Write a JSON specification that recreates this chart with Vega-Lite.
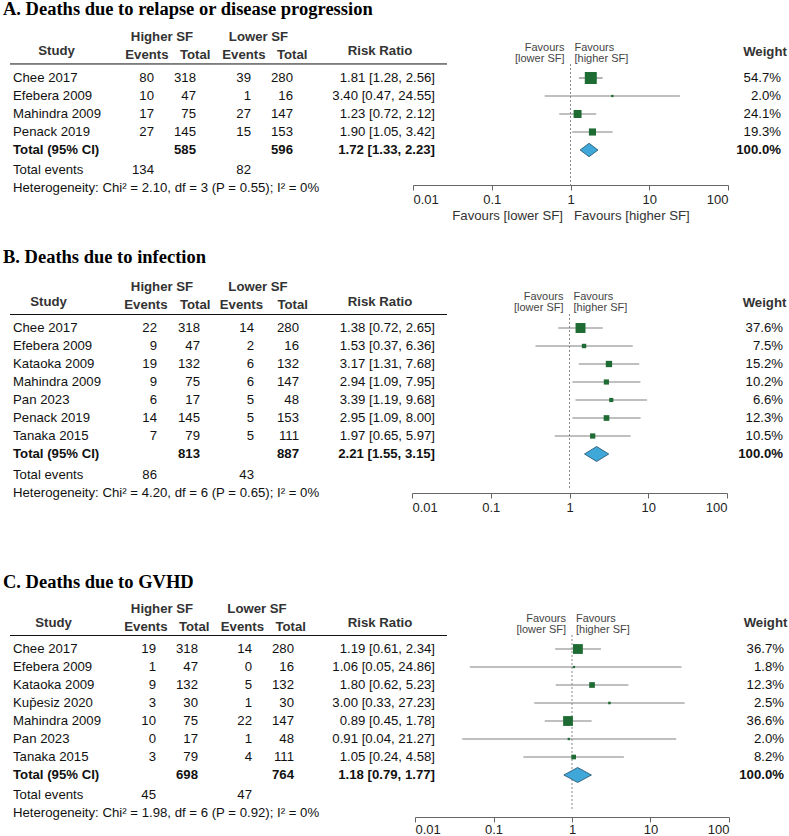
{
"$schema":"https://vega.github.io/schema/vega-lite/v6.json",
"padding":0,
"spacing":62,
"bounds":"flush",
"config":{"view":{"stroke":null},"font":"Liberation Sans","text":{"font":"Liberation Sans"}},
"datasets":{
"headers":[{"key":"study","label":"Study"},{"key":"hi","label":"Higher SF"},{"key":"he","label":"Events"},{"key":"ht","label":"Total"},{"key":"lo","label":"Lower SF"},{"key":"le","label":"Events"},{"key":"lt","label":"Total"},{"key":"rr","label":"Risk Ratio"},{"key":"wt","label":"Weight"}],
"studiesA":[
{"study":"Chee 2017","he":80,"ht":318,"le":39,"lt":280,"rr":"1.81 [1.28, 2.56]","est":1.81,"lo":1.28,"hi":2.56,"w":0.547},
{"study":"Efebera 2009","he":10,"ht":47,"le":1,"lt":16,"rr":"3.40 [0.47, 24.55]","est":3.40,"lo":0.47,"hi":24.55,"w":0.020},
{"study":"Mahindra 2009","he":17,"ht":75,"le":27,"lt":147,"rr":"1.23 [0.72, 2.12]","est":1.23,"lo":0.72,"hi":2.12,"w":0.241},
{"study":"Penack 2019","he":27,"ht":145,"le":15,"lt":153,"rr":"1.90 [1.05, 3.42]","est":1.90,"lo":1.05,"hi":3.42,"w":0.193}],
"footA":[{"title":"A. Deaths due to relapse or disease progression","tot":"Total (95% CI)","ht":585,"lt":596,"rr":"1.72 [1.33, 2.23]","est":1.72,"lo":1.33,"hi":2.23,"w":1.0,"ev":"Total events","he":134,"le":82,"het":"Heterogeneity: Chi² = 2.10, df = 3 (P = 0.55); I² = 0%"}],
"studiesB":[
{"study":"Chee 2017","he":22,"ht":318,"le":14,"lt":280,"rr":"1.38 [0.72, 2.65]","est":1.38,"lo":0.72,"hi":2.65,"w":0.376},
{"study":"Efebera 2009","he":9,"ht":47,"le":2,"lt":16,"rr":"1.53 [0.37, 6.36]","est":1.53,"lo":0.37,"hi":6.36,"w":0.075},
{"study":"Kataoka 2009","he":19,"ht":132,"le":6,"lt":132,"rr":"3.17 [1.31, 7.68]","est":3.17,"lo":1.31,"hi":7.68,"w":0.152},
{"study":"Mahindra 2009","he":9,"ht":75,"le":6,"lt":147,"rr":"2.94 [1.09, 7.95]","est":2.94,"lo":1.09,"hi":7.95,"w":0.102},
{"study":"Pan 2023","he":6,"ht":17,"le":5,"lt":48,"rr":"3.39 [1.19, 9.68]","est":3.39,"lo":1.19,"hi":9.68,"w":0.066},
{"study":"Penack 2019","he":14,"ht":145,"le":5,"lt":153,"rr":"2.95 [1.09, 8.00]","est":2.95,"lo":1.09,"hi":8.00,"w":0.123},
{"study":"Tanaka 2015","he":7,"ht":79,"le":5,"lt":111,"rr":"1.97 [0.65, 5.97]","est":1.97,"lo":0.65,"hi":5.97,"w":0.105}],
"footB":[{"title":"B. Deaths due to infection","tot":"Total (95% CI)","ht":813,"lt":887,"rr":"2.21 [1.55, 3.15]","est":2.21,"lo":1.55,"hi":3.15,"w":1.0,"ev":"Total events","he":86,"le":43,"het":"Heterogeneity: Chi² = 4.20, df = 6 (P = 0.65); I² = 0%"}],
"studiesC":[
{"study":"Chee 2017","he":19,"ht":318,"le":14,"lt":280,"rr":"1.19 [0.61, 2.34]","est":1.19,"lo":0.61,"hi":2.34,"w":0.367},
{"study":"Efebera 2009","he":1,"ht":47,"le":0,"lt":16,"rr":"1.06 [0.05, 24.86]","est":1.06,"lo":0.05,"hi":24.86,"w":0.018},
{"study":"Kataoka 2009","he":9,"ht":132,"le":5,"lt":132,"rr":"1.80 [0.62, 5.23]","est":1.80,"lo":0.62,"hi":5.23,"w":0.123},
{"study":"Kup\u0306esiz 2020","he":3,"ht":30,"le":1,"lt":30,"rr":"3.00 [0.33, 27.23]","est":3.00,"lo":0.33,"hi":27.23,"w":0.025},
{"study":"Mahindra 2009","he":10,"ht":75,"le":22,"lt":147,"rr":"0.89 [0.45, 1.78]","est":0.89,"lo":0.45,"hi":1.78,"w":0.366},
{"study":"Pan 2023","he":0,"ht":17,"le":1,"lt":48,"rr":"0.91 [0.04, 21.27]","est":0.91,"lo":0.04,"hi":21.27,"w":0.020},
{"study":"Tanaka 2015","he":3,"ht":79,"le":4,"lt":111,"rr":"1.05 [0.24, 4.58]","est":1.05,"lo":0.24,"hi":4.58,"w":0.082}],
"footC":[{"title":"C. Deaths due to GVHD","tot":"Total (95% CI)","ht":698,"lt":764,"rr":"1.18 [0.79, 1.77]","est":1.18,"lo":0.79,"hi":1.77,"w":1.0,"ev":"Total events","he":45,"le":47,"het":"Heterogeneity: Chi² = 1.98, df = 6 (P = 0.92); I² = 0%"}]
},
"vconcat":[
{
"width":789,"height":185,
"resolve":{"scale":{"x":"independent"}},
"layer":[
{"encoding":{"x":{"datum":"c","type":"nominal","scale":{"type":"point","domain":["c"],"range":[13,13]},"axis":null}},
"layer":[
{"data":{"name":"studiesA"},"mark":{"type":"text","align":"left","baseline":"middle","fontSize":13.2,"color":"#111"},"encoding":{"y":{"field":"study","type":"nominal","scale":{"type":"band","domain":["title","blank","h1","h2","Chee 2017","Efebera 2009","Mahindra 2009","Penack 2019","Total (95% CI)","Total events","Heterogeneity"],"range":[-3,195],"paddingInner":0,"paddingOuter":0},"axis":null},"text":{"field":"study","type":"nominal"}}},
{"data":{"name":"footA"},"mark":{"type":"text","align":"left","baseline":"middle","fontSize":13.2,"fontWeight":"bold","color":"#111"},"encoding":{"y":{"datum":"Total (95% CI)","type":"nominal","scale":{"type":"band","domain":["title","blank","h1","h2","Chee 2017","Efebera 2009","Mahindra 2009","Penack 2019","Total (95% CI)","Total events","Heterogeneity"],"range":[-3,195],"paddingInner":0,"paddingOuter":0},"axis":null},"text":{"field":"tot","type":"nominal"}}},
{"data":{"name":"footA"},"mark":{"type":"text","align":"left","baseline":"middle","fontSize":13.2,"color":"#111","dy":2},"encoding":{"y":{"datum":"Total events","type":"nominal","scale":{"type":"band","domain":["title","blank","h1","h2","Chee 2017","Efebera 2009","Mahindra 2009","Penack 2019","Total (95% CI)","Total events","Heterogeneity"],"range":[-3,195],"paddingInner":0,"paddingOuter":0},"axis":null},"text":{"field":"ev","type":"nominal"}}},
{"data":{"name":"footA"},"mark":{"type":"text","align":"left","baseline":"middle","fontSize":13.2,"color":"#111","dy":2},"encoding":{"y":{"datum":"Heterogeneity","type":"nominal","scale":{"type":"band","domain":["title","blank","h1","h2","Chee 2017","Efebera 2009","Mahindra 2009","Penack 2019","Total (95% CI)","Total events","Heterogeneity"],"range":[-3,195],"paddingInner":0,"paddingOuter":0},"axis":null},"text":{"field":"het","type":"nominal"}}},
{"data":{"name":"footA"},"mark":{"type":"text","align":"left","baseline":"alphabetic","font":"Liberation Serif","fontSize":18.5,"fontWeight":"bold","color":"#000","dx":-10,"dy":9},"encoding":{"y":{"datum":"title","type":"nominal","scale":{"type":"band","domain":["title","blank","h1","h2","Chee 2017","Efebera 2009","Mahindra 2009","Penack 2019","Total (95% CI)","Total events","Heterogeneity"],"range":[-3,195],"paddingInner":0,"paddingOuter":0},"axis":null},"text":{"field":"title","type":"nominal"}}},
{"data":{"name":"headers"},"transform":[{"filter":"datum.key === 'study'"}],"mark":{"type":"text","align":"center","baseline":"middle","fontSize":13.2,"fontWeight":"bold","color":"#333","dx":43.5,"dy":-9},"encoding":{"y":{"datum":"h2","type":"nominal","scale":{"type":"band","domain":["title","blank","h1","h2","Chee 2017","Efebera 2009","Mahindra 2009","Penack 2019","Total (95% CI)","Total events","Heterogeneity"],"range":[-3,195],"paddingInner":0,"paddingOuter":0},"axis":null},"text":{"field":"label","type":"nominal"}}}
]},
{"layer":[
{"data":{"name":"studiesA"},"transform":[{"fold":["he","ht"],"as":["key","val"]}],"mark":{"type":"text","align":"right","baseline":"middle","fontSize":13.2,"color":"#111"},"encoding":{"x":{"field":"key","type":"nominal","scale":{"type":"point","domain":["he","ht"],"range":[154,196],"padding":0},"axis":null},"y":{"field":"study","type":"nominal","scale":{"type":"band","domain":["title","blank","h1","h2","Chee 2017","Efebera 2009","Mahindra 2009","Penack 2019","Total (95% CI)","Total events","Heterogeneity"],"range":[-3,195],"paddingInner":0,"paddingOuter":0},"axis":null},"text":{"field":"val","type":"nominal"}}},
{"data":{"name":"footA"},"mark":{"type":"text","align":"right","baseline":"middle","fontSize":13.2,"fontWeight":"bold","color":"#111"},"encoding":{"x":{"datum":"ht","type":"nominal","scale":{"type":"point","domain":["he","ht"],"range":[154,196],"padding":0},"axis":null},"y":{"datum":"Total (95% CI)","type":"nominal","scale":{"type":"band","domain":["title","blank","h1","h2","Chee 2017","Efebera 2009","Mahindra 2009","Penack 2019","Total (95% CI)","Total events","Heterogeneity"],"range":[-3,195],"paddingInner":0,"paddingOuter":0},"axis":null},"text":{"field":"ht","type":"nominal"}}},
{"data":{"name":"footA"},"mark":{"type":"text","align":"right","baseline":"middle","fontSize":13.2,"color":"#111","dy":2},"encoding":{"x":{"datum":"he","type":"nominal","scale":{"type":"point","domain":["he","ht"],"range":[154,196],"padding":0},"axis":null},"y":{"datum":"Total events","type":"nominal","scale":{"type":"band","domain":["title","blank","h1","h2","Chee 2017","Efebera 2009","Mahindra 2009","Penack 2019","Total (95% CI)","Total events","Heterogeneity"],"range":[-3,195],"paddingInner":0,"paddingOuter":0},"axis":null},"text":{"field":"he","type":"nominal"}}},
{"data":{"name":"headers"},"transform":[{"filter":"datum.key === 'he' || datum.key === 'ht'"}],"mark":{"type":"text","align":"right","baseline":"middle","fontSize":13.2,"fontWeight":"bold","color":"#333","dx":14.5,"dy":-5},"encoding":{"x":{"field":"key","type":"nominal","scale":{"type":"point","domain":["he","ht"],"range":[154,196],"padding":0},"axis":null},"y":{"datum":"h2","type":"nominal","scale":{"type":"band","domain":["title","blank","h1","h2","Chee 2017","Efebera 2009","Mahindra 2009","Penack 2019","Total (95% CI)","Total events","Heterogeneity"],"range":[-3,195],"paddingInner":0,"paddingOuter":0},"axis":null},"text":{"field":"label","type":"nominal"}}},
{"data":{"name":"headers"},"transform":[{"filter":"datum.key === 'hi'"}],"mark":{"type":"text","align":"center","baseline":"middle","fontSize":13.2,"fontWeight":"bold","color":"#333","dx":8,"dy":-5},"encoding":{"x":{"datum":"he","type":"nominal","scale":{"type":"point","domain":["he","ht"],"range":[154,196],"padding":0},"axis":null},"y":{"datum":"h1","type":"nominal","scale":{"type":"band","domain":["title","blank","h1","h2","Chee 2017","Efebera 2009","Mahindra 2009","Penack 2019","Total (95% CI)","Total events","Heterogeneity"],"range":[-3,195],"paddingInner":0,"paddingOuter":0},"axis":null},"text":{"field":"label","type":"nominal"}}}
]},
{"layer":[
{"data":{"name":"studiesA"},"transform":[{"fold":["le","lt"],"as":["key","val"]}],"mark":{"type":"text","align":"right","baseline":"middle","fontSize":13.2,"color":"#111"},"encoding":{"x":{"field":"key","type":"nominal","scale":{"type":"point","domain":["le","lt"],"range":[251,293],"padding":0},"axis":null},"y":{"field":"study","type":"nominal","scale":{"type":"band","domain":["title","blank","h1","h2","Chee 2017","Efebera 2009","Mahindra 2009","Penack 2019","Total (95% CI)","Total events","Heterogeneity"],"range":[-3,195],"paddingInner":0,"paddingOuter":0},"axis":null},"text":{"field":"val","type":"nominal"}}},
{"data":{"name":"footA"},"mark":{"type":"text","align":"right","baseline":"middle","fontSize":13.2,"fontWeight":"bold","color":"#111"},"encoding":{"x":{"datum":"lt","type":"nominal","scale":{"type":"point","domain":["le","lt"],"range":[251,293],"padding":0},"axis":null},"y":{"datum":"Total (95% CI)","type":"nominal","scale":{"type":"band","domain":["title","blank","h1","h2","Chee 2017","Efebera 2009","Mahindra 2009","Penack 2019","Total (95% CI)","Total events","Heterogeneity"],"range":[-3,195],"paddingInner":0,"paddingOuter":0},"axis":null},"text":{"field":"lt","type":"nominal"}}},
{"data":{"name":"footA"},"mark":{"type":"text","align":"right","baseline":"middle","fontSize":13.2,"color":"#111","dy":2},"encoding":{"x":{"datum":"le","type":"nominal","scale":{"type":"point","domain":["le","lt"],"range":[251,293],"padding":0},"axis":null},"y":{"datum":"Total events","type":"nominal","scale":{"type":"band","domain":["title","blank","h1","h2","Chee 2017","Efebera 2009","Mahindra 2009","Penack 2019","Total (95% CI)","Total events","Heterogeneity"],"range":[-3,195],"paddingInner":0,"paddingOuter":0},"axis":null},"text":{"field":"le","type":"nominal"}}},
{"data":{"name":"headers"},"transform":[{"filter":"datum.key === 'le' || datum.key === 'lt'"}],"mark":{"type":"text","align":"right","baseline":"middle","fontSize":13.2,"fontWeight":"bold","color":"#333","dx":14.5,"dy":-5},"encoding":{"x":{"field":"key","type":"nominal","scale":{"type":"point","domain":["le","lt"],"range":[251,293],"padding":0},"axis":null},"y":{"datum":"h2","type":"nominal","scale":{"type":"band","domain":["title","blank","h1","h2","Chee 2017","Efebera 2009","Mahindra 2009","Penack 2019","Total (95% CI)","Total events","Heterogeneity"],"range":[-3,195],"paddingInner":0,"paddingOuter":0},"axis":null},"text":{"field":"label","type":"nominal"}}},
{"data":{"name":"headers"},"transform":[{"filter":"datum.key === 'lo'"}],"mark":{"type":"text","align":"center","baseline":"middle","fontSize":13.2,"fontWeight":"bold","color":"#333","dx":7.5,"dy":-5},"encoding":{"x":{"datum":"le","type":"nominal","scale":{"type":"point","domain":["le","lt"],"range":[251,293],"padding":0},"axis":null},"y":{"datum":"h1","type":"nominal","scale":{"type":"band","domain":["title","blank","h1","h2","Chee 2017","Efebera 2009","Mahindra 2009","Penack 2019","Total (95% CI)","Total events","Heterogeneity"],"range":[-3,195],"paddingInner":0,"paddingOuter":0},"axis":null},"text":{"field":"label","type":"nominal"}}}
]},
{"encoding":{"x":{"datum":"rr","type":"nominal","scale":{"type":"point","domain":["rr"],"range":[435,435]},"axis":null}},
"layer":[
{"data":{"name":"studiesA"},"mark":{"type":"text","align":"right","baseline":"middle","fontSize":13.2,"color":"#111"},"encoding":{"y":{"field":"study","type":"nominal","scale":{"type":"band","domain":["title","blank","h1","h2","Chee 2017","Efebera 2009","Mahindra 2009","Penack 2019","Total (95% CI)","Total events","Heterogeneity"],"range":[-3,195],"paddingInner":0,"paddingOuter":0},"axis":null},"text":{"field":"rr","type":"nominal"}}},
{"data":{"name":"footA"},"mark":{"type":"text","align":"right","baseline":"middle","fontSize":13.2,"fontWeight":"bold","color":"#111"},"encoding":{"y":{"datum":"Total (95% CI)","type":"nominal","scale":{"type":"band","domain":["title","blank","h1","h2","Chee 2017","Efebera 2009","Mahindra 2009","Penack 2019","Total (95% CI)","Total events","Heterogeneity"],"range":[-3,195],"paddingInner":0,"paddingOuter":0},"axis":null},"text":{"field":"rr","type":"nominal"}}},
{"data":{"name":"headers"},"transform":[{"filter":"datum.key === 'rr'"}],"mark":{"type":"text","align":"center","baseline":"middle","fontSize":13.2,"fontWeight":"bold","color":"#333","dx":-55,"dy":-9},"encoding":{"y":{"datum":"h2","type":"nominal","scale":{"type":"band","domain":["title","blank","h1","h2","Chee 2017","Efebera 2009","Mahindra 2009","Penack 2019","Total (95% CI)","Total events","Heterogeneity"],"range":[-3,195],"paddingInner":0,"paddingOuter":0},"axis":null},"text":{"field":"label","type":"nominal"}}}
]},
{"encoding":{"x":{"datum":"wt","type":"nominal","scale":{"type":"point","domain":["wt"],"range":[781,781]},"axis":null}},
"layer":[
{"data":{"name":"studiesA"},"mark":{"type":"text","align":"right","baseline":"middle","fontSize":13.2,"color":"#111"},"encoding":{"y":{"field":"study","type":"nominal","scale":{"type":"band","domain":["title","blank","h1","h2","Chee 2017","Efebera 2009","Mahindra 2009","Penack 2019","Total (95% CI)","Total events","Heterogeneity"],"range":[-3,195],"paddingInner":0,"paddingOuter":0},"axis":null},"text":{"field":"w","type":"quantitative","format":".1%"}}},
{"data":{"name":"footA"},"mark":{"type":"text","align":"right","baseline":"middle","fontSize":13.2,"fontWeight":"bold","color":"#111"},"encoding":{"y":{"datum":"Total (95% CI)","type":"nominal","scale":{"type":"band","domain":["title","blank","h1","h2","Chee 2017","Efebera 2009","Mahindra 2009","Penack 2019","Total (95% CI)","Total events","Heterogeneity"],"range":[-3,195],"paddingInner":0,"paddingOuter":0},"axis":null},"text":{"field":"w","type":"quantitative","format":".1%"}}},
{"data":{"name":"headers"},"transform":[{"filter":"datum.key === 'wt'"}],"mark":{"type":"text","align":"center","baseline":"middle","fontSize":13.2,"fontWeight":"bold","color":"#333","dx":-16,"dy":-8},"encoding":{"y":{"datum":"h2","type":"nominal","scale":{"type":"band","domain":["title","blank","h1","h2","Chee 2017","Efebera 2009","Mahindra 2009","Penack 2019","Total (95% CI)","Total events","Heterogeneity"],"range":[-3,195],"paddingInner":0,"paddingOuter":0},"axis":null},"text":{"field":"label","type":"nominal"}}}
]},
{"data":{"name":"footA"},"mark":{"type":"rule","color":"#111","strokeWidth":1},"encoding":{"x":{"datum":"a","type":"nominal","scale":{"type":"point","domain":["a","b"],"range":[10,447],"padding":0},"axis":null},"x2":{"datum":"b"},"y":{"datum":"h2","type":"nominal","bandPosition":0.72,"scale":{"type":"band","domain":["title","blank","h1","h2","Chee 2017","Efebera 2009","Mahindra 2009","Penack 2019","Total (95% CI)","Total events","Heterogeneity"],"range":[-3,195],"paddingInner":0,"paddingOuter":0},"axis":null}}},
{"data":{"name":"footA"},"mark":{"type":"rule","color":"#888","strokeDash":[2,2],"strokeWidth":1},"encoding":{"x":{"datum":1,"type":"quantitative","scale":{"type":"log","domain":[0.01,100],"range":[413,728]},"axis":null},"y":{"datum":"h2","type":"nominal","bandPosition":0.72,"scale":{"type":"band","domain":["title","blank","h1","h2","Chee 2017","Efebera 2009","Mahindra 2009","Penack 2019","Total (95% CI)","Total events","Heterogeneity"],"range":[-3,195],"paddingInner":0,"paddingOuter":0},"axis":null},"y2":{"datum":"Heterogeneity"}}},
{"data":{"name":"studiesA"},"mark":{"type":"rule","color":"#808080","strokeWidth":1.2},"encoding":{"x":{"field":"lo","type":"quantitative","scale":{"type":"log","domain":[0.01,100],"range":[413,728]},"axis":{"orient":"bottom","values":[0.01,0.1,1,10,100],"format":"~g","grid":false,"domainColor":"#666","tickColor":"#666","tickSize":5,"labelFont":"Liberation Sans","labelFontSize":13,"labelColor":"#222","labelPadding":3,"labelFlush":true,"title":"Favours [lower SF]\u00a0\u00a0\u00a0Favours [higher SF]","titleFont":"Liberation Sans","titleFontSize":13.2,"titleFontWeight":"normal","titleColor":"#333","titlePadding":3}},"x2":{"field":"hi"},"y":{"field":"study","type":"nominal","scale":{"type":"band","domain":["title","blank","h1","h2","Chee 2017","Efebera 2009","Mahindra 2009","Penack 2019","Total (95% CI)","Total events","Heterogeneity"],"range":[-3,195],"paddingInner":0,"paddingOuter":0},"axis":null}}},
{"data":{"name":"studiesA"},"mark":{"type":"point","shape":"square","filled":true,"color":"#1e6b34","opacity":1},"encoding":{"x":{"field":"est","type":"quantitative","scale":{"type":"log","domain":[0.01,100],"range":[413,728]},"axis":null},"y":{"field":"study","type":"nominal","scale":{"type":"band","domain":["title","blank","h1","h2","Chee 2017","Efebera 2009","Mahindra 2009","Penack 2019","Total (95% CI)","Total events","Heterogeneity"],"range":[-3,195],"paddingInner":0,"paddingOuter":0},"axis":null},"size":{"field":"w","type":"quantitative","scale":{"type":"linear","domain":[0,1],"range":[0,263]},"legend":null}}},
{"data":{"name":"footA"},"mark":{"type":"point","shape":"M-1.33,0L0,-1L1.33,0L0,1Z","filled":true,"fill":"#40a8d8","stroke":"#1f4f6a","strokeWidth":0.8,"size":180,"opacity":1},"encoding":{"x":{"field":"est","type":"quantitative","scale":{"type":"log","domain":[0.01,100],"range":[413,728]},"axis":null},"y":{"datum":"Total (95% CI)","type":"nominal","scale":{"type":"band","domain":["title","blank","h1","h2","Chee 2017","Efebera 2009","Mahindra 2009","Penack 2019","Total (95% CI)","Total events","Heterogeneity"],"range":[-3,195],"paddingInner":0,"paddingOuter":0},"axis":null}}},
{"data":{"name":"footA"},"mark":{"type":"text","text":["Favours","[lower SF]"],"align":"right","baseline":"middle","fontSize":11,"lineHeight":11,"color":"#444","dx":-6,"dy":5.5},"encoding":{"x":{"datum":1,"type":"quantitative","scale":{"type":"log","domain":[0.01,100],"range":[413,728]},"axis":null},"y":{"datum":"h1","type":"nominal","scale":{"type":"band","domain":["title","blank","h1","h2","Chee 2017","Efebera 2009","Mahindra 2009","Penack 2019","Total (95% CI)","Total events","Heterogeneity"],"range":[-3,195],"paddingInner":0,"paddingOuter":0},"axis":null}}},
{"data":{"name":"footA"},"mark":{"type":"text","text":["Favours","[higher SF]"],"align":"left","baseline":"middle","fontSize":11,"lineHeight":11,"color":"#444","dx":4,"dy":5.5},"encoding":{"x":{"datum":1,"type":"quantitative","scale":{"type":"log","domain":[0.01,100],"range":[413,728]},"axis":null},"y":{"datum":"h1","type":"nominal","scale":{"type":"band","domain":["title","blank","h1","h2","Chee 2017","Efebera 2009","Mahindra 2009","Penack 2019","Total (95% CI)","Total events","Heterogeneity"],"range":[-3,195],"paddingInner":0,"paddingOuter":0},"axis":null}}}
]
},
{
"width":789,"height":246,
"resolve":{"scale":{"x":"independent"}},
"layer":[
{"encoding":{"x":{"datum":"c","type":"nominal","scale":{"type":"point","domain":["c"],"range":[13,13]},"axis":null}},
"layer":[
{"data":{"name":"studiesB"},"mark":{"type":"text","align":"left","baseline":"middle","fontSize":13.2,"color":"#111"},"encoding":{"y":{"field":"study","type":"nominal","scale":{"type":"band","domain":["title","blank","h1","h2","Chee 2017","Efebera 2009","Kataoka 2009","Mahindra 2009","Pan 2023","Penack 2019","Tanaka 2015","Total (95% CI)","Total events","Heterogeneity"],"range":[0,252],"paddingInner":0,"paddingOuter":0},"axis":null},"text":{"field":"study","type":"nominal"}}},
{"data":{"name":"footB"},"mark":{"type":"text","align":"left","baseline":"middle","fontSize":13.2,"fontWeight":"bold","color":"#111"},"encoding":{"y":{"datum":"Total (95% CI)","type":"nominal","scale":{"type":"band","domain":["title","blank","h1","h2","Chee 2017","Efebera 2009","Kataoka 2009","Mahindra 2009","Pan 2023","Penack 2019","Tanaka 2015","Total (95% CI)","Total events","Heterogeneity"],"range":[0,252],"paddingInner":0,"paddingOuter":0},"axis":null},"text":{"field":"tot","type":"nominal"}}},
{"data":{"name":"footB"},"mark":{"type":"text","align":"left","baseline":"middle","fontSize":13.2,"color":"#111","dy":3},"encoding":{"y":{"datum":"Total events","type":"nominal","scale":{"type":"band","domain":["title","blank","h1","h2","Chee 2017","Efebera 2009","Kataoka 2009","Mahindra 2009","Pan 2023","Penack 2019","Tanaka 2015","Total (95% CI)","Total events","Heterogeneity"],"range":[0,252],"paddingInner":0,"paddingOuter":0},"axis":null},"text":{"field":"ev","type":"nominal"}}},
{"data":{"name":"footB"},"mark":{"type":"text","align":"left","baseline":"middle","fontSize":13.2,"color":"#111","dy":3},"encoding":{"y":{"datum":"Heterogeneity","type":"nominal","scale":{"type":"band","domain":["title","blank","h1","h2","Chee 2017","Efebera 2009","Kataoka 2009","Mahindra 2009","Pan 2023","Penack 2019","Tanaka 2015","Total (95% CI)","Total events","Heterogeneity"],"range":[0,252],"paddingInner":0,"paddingOuter":0},"axis":null},"text":{"field":"het","type":"nominal"}}},
{"data":{"name":"footB"},"mark":{"type":"text","align":"left","baseline":"alphabetic","font":"Liberation Serif","fontSize":18.5,"fontWeight":"bold","color":"#000","dx":-10,"dy":7},"encoding":{"y":{"datum":"title","type":"nominal","scale":{"type":"band","domain":["title","blank","h1","h2","Chee 2017","Efebera 2009","Kataoka 2009","Mahindra 2009","Pan 2023","Penack 2019","Tanaka 2015","Total (95% CI)","Total events","Heterogeneity"],"range":[0,252],"paddingInner":0,"paddingOuter":0},"axis":null},"text":{"field":"title","type":"nominal"}}},
{"data":{"name":"headers"},"transform":[{"filter":"datum.key === 'study'"}],"mark":{"type":"text","align":"center","baseline":"middle","fontSize":13.2,"fontWeight":"bold","color":"#333","dx":35.5,"dy":-8},"encoding":{"y":{"datum":"h2","type":"nominal","scale":{"type":"band","domain":["title","blank","h1","h2","Chee 2017","Efebera 2009","Kataoka 2009","Mahindra 2009","Pan 2023","Penack 2019","Tanaka 2015","Total (95% CI)","Total events","Heterogeneity"],"range":[0,252],"paddingInner":0,"paddingOuter":0},"axis":null},"text":{"field":"label","type":"nominal"}}}
]},
{"layer":[
{"data":{"name":"studiesB"},"transform":[{"fold":["he","ht"],"as":["key","val"]}],"mark":{"type":"text","align":"right","baseline":"middle","fontSize":13.2,"color":"#111"},"encoding":{"x":{"field":"key","type":"nominal","scale":{"type":"point","domain":["he","ht"],"range":[157,200],"padding":0},"axis":null},"y":{"field":"study","type":"nominal","scale":{"type":"band","domain":["title","blank","h1","h2","Chee 2017","Efebera 2009","Kataoka 2009","Mahindra 2009","Pan 2023","Penack 2019","Tanaka 2015","Total (95% CI)","Total events","Heterogeneity"],"range":[0,252],"paddingInner":0,"paddingOuter":0},"axis":null},"text":{"field":"val","type":"nominal"}}},
{"data":{"name":"footB"},"mark":{"type":"text","align":"right","baseline":"middle","fontSize":13.2,"fontWeight":"bold","color":"#111"},"encoding":{"x":{"datum":"ht","type":"nominal","scale":{"type":"point","domain":["he","ht"],"range":[157,200],"padding":0},"axis":null},"y":{"datum":"Total (95% CI)","type":"nominal","scale":{"type":"band","domain":["title","blank","h1","h2","Chee 2017","Efebera 2009","Kataoka 2009","Mahindra 2009","Pan 2023","Penack 2019","Tanaka 2015","Total (95% CI)","Total events","Heterogeneity"],"range":[0,252],"paddingInner":0,"paddingOuter":0},"axis":null},"text":{"field":"ht","type":"nominal"}}},
{"data":{"name":"footB"},"mark":{"type":"text","align":"right","baseline":"middle","fontSize":13.2,"color":"#111","dy":3},"encoding":{"x":{"datum":"he","type":"nominal","scale":{"type":"point","domain":["he","ht"],"range":[157,200],"padding":0},"axis":null},"y":{"datum":"Total events","type":"nominal","scale":{"type":"band","domain":["title","blank","h1","h2","Chee 2017","Efebera 2009","Kataoka 2009","Mahindra 2009","Pan 2023","Penack 2019","Tanaka 2015","Total (95% CI)","Total events","Heterogeneity"],"range":[0,252],"paddingInner":0,"paddingOuter":0},"axis":null},"text":{"field":"he","type":"nominal"}}},
{"data":{"name":"headers"},"transform":[{"filter":"datum.key === 'he' || datum.key === 'ht'"}],"mark":{"type":"text","align":"right","baseline":"middle","fontSize":13.2,"fontWeight":"bold","color":"#333","dx":10.5,"dy":-5},"encoding":{"x":{"field":"key","type":"nominal","scale":{"type":"point","domain":["he","ht"],"range":[157,200],"padding":0},"axis":null},"y":{"datum":"h2","type":"nominal","scale":{"type":"band","domain":["title","blank","h1","h2","Chee 2017","Efebera 2009","Kataoka 2009","Mahindra 2009","Pan 2023","Penack 2019","Tanaka 2015","Total (95% CI)","Total events","Heterogeneity"],"range":[0,252],"paddingInner":0,"paddingOuter":0},"axis":null},"text":{"field":"label","type":"nominal"}}},
{"data":{"name":"headers"},"transform":[{"filter":"datum.key === 'hi'"}],"mark":{"type":"text","align":"center","baseline":"middle","fontSize":13.2,"fontWeight":"bold","color":"#333","dx":5,"dy":-5},"encoding":{"x":{"datum":"he","type":"nominal","scale":{"type":"point","domain":["he","ht"],"range":[157,200],"padding":0},"axis":null},"y":{"datum":"h1","type":"nominal","scale":{"type":"band","domain":["title","blank","h1","h2","Chee 2017","Efebera 2009","Kataoka 2009","Mahindra 2009","Pan 2023","Penack 2019","Tanaka 2015","Total (95% CI)","Total events","Heterogeneity"],"range":[0,252],"paddingInner":0,"paddingOuter":0},"axis":null},"text":{"field":"label","type":"nominal"}}}
]},
{"layer":[
{"data":{"name":"studiesB"},"transform":[{"fold":["le","lt"],"as":["key","val"]}],"mark":{"type":"text","align":"right","baseline":"middle","fontSize":13.2,"color":"#111"},"encoding":{"x":{"field":"key","type":"nominal","scale":{"type":"point","domain":["le","lt"],"range":[254,299],"padding":0},"axis":null},"y":{"field":"study","type":"nominal","scale":{"type":"band","domain":["title","blank","h1","h2","Chee 2017","Efebera 2009","Kataoka 2009","Mahindra 2009","Pan 2023","Penack 2019","Tanaka 2015","Total (95% CI)","Total events","Heterogeneity"],"range":[0,252],"paddingInner":0,"paddingOuter":0},"axis":null},"text":{"field":"val","type":"nominal"}}},
{"data":{"name":"footB"},"mark":{"type":"text","align":"right","baseline":"middle","fontSize":13.2,"fontWeight":"bold","color":"#111"},"encoding":{"x":{"datum":"lt","type":"nominal","scale":{"type":"point","domain":["le","lt"],"range":[254,299],"padding":0},"axis":null},"y":{"datum":"Total (95% CI)","type":"nominal","scale":{"type":"band","domain":["title","blank","h1","h2","Chee 2017","Efebera 2009","Kataoka 2009","Mahindra 2009","Pan 2023","Penack 2019","Tanaka 2015","Total (95% CI)","Total events","Heterogeneity"],"range":[0,252],"paddingInner":0,"paddingOuter":0},"axis":null},"text":{"field":"lt","type":"nominal"}}},
{"data":{"name":"footB"},"mark":{"type":"text","align":"right","baseline":"middle","fontSize":13.2,"color":"#111","dy":3},"encoding":{"x":{"datum":"le","type":"nominal","scale":{"type":"point","domain":["le","lt"],"range":[254,299],"padding":0},"axis":null},"y":{"datum":"Total events","type":"nominal","scale":{"type":"band","domain":["title","blank","h1","h2","Chee 2017","Efebera 2009","Kataoka 2009","Mahindra 2009","Pan 2023","Penack 2019","Tanaka 2015","Total (95% CI)","Total events","Heterogeneity"],"range":[0,252],"paddingInner":0,"paddingOuter":0},"axis":null},"text":{"field":"le","type":"nominal"}}},
{"data":{"name":"headers"},"transform":[{"filter":"datum.key === 'le' || datum.key === 'lt'"}],"mark":{"type":"text","align":"right","baseline":"middle","fontSize":13.2,"fontWeight":"bold","color":"#333","dx":9,"dy":-5},"encoding":{"x":{"field":"key","type":"nominal","scale":{"type":"point","domain":["le","lt"],"range":[254,299],"padding":0},"axis":null},"y":{"datum":"h2","type":"nominal","scale":{"type":"band","domain":["title","blank","h1","h2","Chee 2017","Efebera 2009","Kataoka 2009","Mahindra 2009","Pan 2023","Penack 2019","Tanaka 2015","Total (95% CI)","Total events","Heterogeneity"],"range":[0,252],"paddingInner":0,"paddingOuter":0},"axis":null},"text":{"field":"label","type":"nominal"}}},
{"data":{"name":"headers"},"transform":[{"filter":"datum.key === 'lo'"}],"mark":{"type":"text","align":"center","baseline":"middle","fontSize":13.2,"fontWeight":"bold","color":"#333","dx":4,"dy":-5},"encoding":{"x":{"datum":"le","type":"nominal","scale":{"type":"point","domain":["le","lt"],"range":[254,299],"padding":0},"axis":null},"y":{"datum":"h1","type":"nominal","scale":{"type":"band","domain":["title","blank","h1","h2","Chee 2017","Efebera 2009","Kataoka 2009","Mahindra 2009","Pan 2023","Penack 2019","Tanaka 2015","Total (95% CI)","Total events","Heterogeneity"],"range":[0,252],"paddingInner":0,"paddingOuter":0},"axis":null},"text":{"field":"label","type":"nominal"}}}
]},
{"encoding":{"x":{"datum":"rr","type":"nominal","scale":{"type":"point","domain":["rr"],"range":[435,435]},"axis":null}},
"layer":[
{"data":{"name":"studiesB"},"mark":{"type":"text","align":"right","baseline":"middle","fontSize":13.2,"color":"#111"},"encoding":{"y":{"field":"study","type":"nominal","scale":{"type":"band","domain":["title","blank","h1","h2","Chee 2017","Efebera 2009","Kataoka 2009","Mahindra 2009","Pan 2023","Penack 2019","Tanaka 2015","Total (95% CI)","Total events","Heterogeneity"],"range":[0,252],"paddingInner":0,"paddingOuter":0},"axis":null},"text":{"field":"rr","type":"nominal"}}},
{"data":{"name":"footB"},"mark":{"type":"text","align":"right","baseline":"middle","fontSize":13.2,"fontWeight":"bold","color":"#111"},"encoding":{"y":{"datum":"Total (95% CI)","type":"nominal","scale":{"type":"band","domain":["title","blank","h1","h2","Chee 2017","Efebera 2009","Kataoka 2009","Mahindra 2009","Pan 2023","Penack 2019","Tanaka 2015","Total (95% CI)","Total events","Heterogeneity"],"range":[0,252],"paddingInner":0,"paddingOuter":0},"axis":null},"text":{"field":"rr","type":"nominal"}}},
{"data":{"name":"headers"},"transform":[{"filter":"datum.key === 'rr'"}],"mark":{"type":"text","align":"center","baseline":"middle","fontSize":13.2,"fontWeight":"bold","color":"#333","dx":-55,"dy":-8},"encoding":{"y":{"datum":"h2","type":"nominal","scale":{"type":"band","domain":["title","blank","h1","h2","Chee 2017","Efebera 2009","Kataoka 2009","Mahindra 2009","Pan 2023","Penack 2019","Tanaka 2015","Total (95% CI)","Total events","Heterogeneity"],"range":[0,252],"paddingInner":0,"paddingOuter":0},"axis":null},"text":{"field":"label","type":"nominal"}}}
]},
{"encoding":{"x":{"datum":"wt","type":"nominal","scale":{"type":"point","domain":["wt"],"range":[783,783]},"axis":null}},
"layer":[
{"data":{"name":"studiesB"},"mark":{"type":"text","align":"right","baseline":"middle","fontSize":13.2,"color":"#111"},"encoding":{"y":{"field":"study","type":"nominal","scale":{"type":"band","domain":["title","blank","h1","h2","Chee 2017","Efebera 2009","Kataoka 2009","Mahindra 2009","Pan 2023","Penack 2019","Tanaka 2015","Total (95% CI)","Total events","Heterogeneity"],"range":[0,252],"paddingInner":0,"paddingOuter":0},"axis":null},"text":{"field":"w","type":"quantitative","format":".1%"}}},
{"data":{"name":"footB"},"mark":{"type":"text","align":"right","baseline":"middle","fontSize":13.2,"fontWeight":"bold","color":"#111"},"encoding":{"y":{"datum":"Total (95% CI)","type":"nominal","scale":{"type":"band","domain":["title","blank","h1","h2","Chee 2017","Efebera 2009","Kataoka 2009","Mahindra 2009","Pan 2023","Penack 2019","Tanaka 2015","Total (95% CI)","Total events","Heterogeneity"],"range":[0,252],"paddingInner":0,"paddingOuter":0},"axis":null},"text":{"field":"w","type":"quantitative","format":".1%"}}},
{"data":{"name":"headers"},"transform":[{"filter":"datum.key === 'wt'"}],"mark":{"type":"text","align":"center","baseline":"middle","fontSize":13.2,"fontWeight":"bold","color":"#333","dx":-18.5,"dy":-7},"encoding":{"y":{"datum":"h2","type":"nominal","scale":{"type":"band","domain":["title","blank","h1","h2","Chee 2017","Efebera 2009","Kataoka 2009","Mahindra 2009","Pan 2023","Penack 2019","Tanaka 2015","Total (95% CI)","Total events","Heterogeneity"],"range":[0,252],"paddingInner":0,"paddingOuter":0},"axis":null},"text":{"field":"label","type":"nominal"}}}
]},
{"data":{"name":"footB"},"mark":{"type":"rule","color":"#111","strokeWidth":1},"encoding":{"x":{"datum":"a","type":"nominal","scale":{"type":"point","domain":["a","b"],"range":[10,447],"padding":0},"axis":null},"x2":{"datum":"b"},"y":{"datum":"h2","type":"nominal","bandPosition":0.75,"scale":{"type":"band","domain":["title","blank","h1","h2","Chee 2017","Efebera 2009","Kataoka 2009","Mahindra 2009","Pan 2023","Penack 2019","Tanaka 2015","Total (95% CI)","Total events","Heterogeneity"],"range":[0,252],"paddingInner":0,"paddingOuter":0},"axis":null}}},
{"data":{"name":"footB"},"mark":{"type":"rule","color":"#888","strokeDash":[2,2],"strokeWidth":1},"encoding":{"x":{"datum":1,"type":"quantitative","scale":{"type":"log","domain":[0.01,100],"range":[412,727]},"axis":null},"y":{"datum":"h2","type":"nominal","bandPosition":0.72,"scale":{"type":"band","domain":["title","blank","h1","h2","Chee 2017","Efebera 2009","Kataoka 2009","Mahindra 2009","Pan 2023","Penack 2019","Tanaka 2015","Total (95% CI)","Total events","Heterogeneity"],"range":[0,252],"paddingInner":0,"paddingOuter":0},"axis":null},"y2":{"datum":"Heterogeneity"}}},
{"data":{"name":"studiesB"},"mark":{"type":"rule","color":"#808080","strokeWidth":1.2},"encoding":{"x":{"field":"lo","type":"quantitative","scale":{"type":"log","domain":[0.01,100],"range":[412,727]},"axis":{"orient":"bottom","values":[0.01,0.1,1,10,100],"format":"~g","grid":false,"domainColor":"#666","tickColor":"#666","tickSize":5,"labelFont":"Liberation Sans","labelFontSize":13,"labelColor":"#222","labelPadding":3,"labelFlush":true,"title":null}},"x2":{"field":"hi"},"y":{"field":"study","type":"nominal","scale":{"type":"band","domain":["title","blank","h1","h2","Chee 2017","Efebera 2009","Kataoka 2009","Mahindra 2009","Pan 2023","Penack 2019","Tanaka 2015","Total (95% CI)","Total events","Heterogeneity"],"range":[0,252],"paddingInner":0,"paddingOuter":0},"axis":null}}},
{"data":{"name":"studiesB"},"mark":{"type":"point","shape":"square","filled":true,"color":"#1e6b34","opacity":1},"encoding":{"x":{"field":"est","type":"quantitative","scale":{"type":"log","domain":[0.01,100],"range":[412,727]},"axis":null},"y":{"field":"study","type":"nominal","scale":{"type":"band","domain":["title","blank","h1","h2","Chee 2017","Efebera 2009","Kataoka 2009","Mahindra 2009","Pan 2023","Penack 2019","Tanaka 2015","Total (95% CI)","Total events","Heterogeneity"],"range":[0,252],"paddingInner":0,"paddingOuter":0},"axis":null},"size":{"field":"w","type":"quantitative","scale":{"type":"linear","domain":[0,1],"range":[0,263]},"legend":null}}},
{"data":{"name":"footB"},"mark":{"type":"point","shape":"M-1.62,0L0,-1L1.62,0L0,1Z","filled":true,"fill":"#40a8d8","stroke":"#1f4f6a","strokeWidth":0.8,"size":225,"opacity":1},"encoding":{"x":{"field":"est","type":"quantitative","scale":{"type":"log","domain":[0.01,100],"range":[412,727]},"axis":null},"y":{"datum":"Total (95% CI)","type":"nominal","scale":{"type":"band","domain":["title","blank","h1","h2","Chee 2017","Efebera 2009","Kataoka 2009","Mahindra 2009","Pan 2023","Penack 2019","Tanaka 2015","Total (95% CI)","Total events","Heterogeneity"],"range":[0,252],"paddingInner":0,"paddingOuter":0},"axis":null}}},
{"data":{"name":"footB"},"mark":{"type":"text","text":["Favours","[lower SF]"],"align":"right","baseline":"middle","fontSize":11,"lineHeight":11,"color":"#444","dx":-6,"dy":5},"encoding":{"x":{"datum":1,"type":"quantitative","scale":{"type":"log","domain":[0.01,100],"range":[412,727]},"axis":null},"y":{"datum":"h1","type":"nominal","scale":{"type":"band","domain":["title","blank","h1","h2","Chee 2017","Efebera 2009","Kataoka 2009","Mahindra 2009","Pan 2023","Penack 2019","Tanaka 2015","Total (95% CI)","Total events","Heterogeneity"],"range":[0,252],"paddingInner":0,"paddingOuter":0},"axis":null}}},
{"data":{"name":"footB"},"mark":{"type":"text","text":["Favours","[higher SF]"],"align":"left","baseline":"middle","fontSize":11,"lineHeight":11,"color":"#444","dx":4,"dy":5},"encoding":{"x":{"datum":1,"type":"quantitative","scale":{"type":"log","domain":[0.01,100],"range":[412,727]},"axis":null},"y":{"datum":"h1","type":"nominal","scale":{"type":"band","domain":["title","blank","h1","h2","Chee 2017","Efebera 2009","Kataoka 2009","Mahindra 2009","Pan 2023","Penack 2019","Tanaka 2015","Total (95% CI)","Total events","Heterogeneity"],"range":[0,252],"paddingInner":0,"paddingOuter":0},"axis":null}}}
]
},
{
"width":789,"height":262,
"resolve":{"scale":{"x":"independent"}},
"layer":[
{"encoding":{"x":{"datum":"c","type":"nominal","scale":{"type":"point","domain":["c"],"range":[13,13]},"axis":null}},
"layer":[
{"data":{"name":"studiesC"},"mark":{"type":"text","align":"left","baseline":"middle","fontSize":13.2,"color":"#111"},"encoding":{"y":{"field":"study","type":"nominal","scale":{"type":"band","domain":["title","blank","h1","h2","Chee 2017","Efebera 2009","Kataoka 2009","Kup\u0306esiz 2020","Mahindra 2009","Pan 2023","Tanaka 2015","Total (95% CI)","Total events","Heterogeneity"],"range":[13,265],"paddingInner":0,"paddingOuter":0},"axis":null},"text":{"field":"study","type":"nominal"}}},
{"data":{"name":"footC"},"mark":{"type":"text","align":"left","baseline":"middle","fontSize":13.2,"fontWeight":"bold","color":"#111"},"encoding":{"y":{"datum":"Total (95% CI)","type":"nominal","scale":{"type":"band","domain":["title","blank","h1","h2","Chee 2017","Efebera 2009","Kataoka 2009","Kup\u0306esiz 2020","Mahindra 2009","Pan 2023","Tanaka 2015","Total (95% CI)","Total events","Heterogeneity"],"range":[13,265],"paddingInner":0,"paddingOuter":0},"axis":null},"text":{"field":"tot","type":"nominal"}}},
{"data":{"name":"footC"},"mark":{"type":"text","align":"left","baseline":"middle","fontSize":13.2,"color":"#111","dy":2},"encoding":{"y":{"datum":"Total events","type":"nominal","scale":{"type":"band","domain":["title","blank","h1","h2","Chee 2017","Efebera 2009","Kataoka 2009","Kup\u0306esiz 2020","Mahindra 2009","Pan 2023","Tanaka 2015","Total (95% CI)","Total events","Heterogeneity"],"range":[13,265],"paddingInner":0,"paddingOuter":0},"axis":null},"text":{"field":"ev","type":"nominal"}}},
{"data":{"name":"footC"},"mark":{"type":"text","align":"left","baseline":"middle","fontSize":13.2,"color":"#111","dy":2},"encoding":{"y":{"datum":"Heterogeneity","type":"nominal","scale":{"type":"band","domain":["title","blank","h1","h2","Chee 2017","Efebera 2009","Kataoka 2009","Kup\u0306esiz 2020","Mahindra 2009","Pan 2023","Tanaka 2015","Total (95% CI)","Total events","Heterogeneity"],"range":[13,265],"paddingInner":0,"paddingOuter":0},"axis":null},"text":{"field":"het","type":"nominal"}}},
{"data":{"name":"footC"},"mark":{"type":"text","align":"left","baseline":"alphabetic","font":"Liberation Serif","fontSize":18.5,"fontWeight":"bold","color":"#000","dx":-10,"dy":11},"encoding":{"y":{"datum":"title","type":"nominal","scale":{"type":"band","domain":["title","blank","h1","h2","Chee 2017","Efebera 2009","Kataoka 2009","Kup\u0306esiz 2020","Mahindra 2009","Pan 2023","Tanaka 2015","Total (95% CI)","Total events","Heterogeneity"],"range":[13,265],"paddingInner":0,"paddingOuter":0},"axis":null},"text":{"field":"title","type":"nominal"}}},
{"data":{"name":"headers"},"transform":[{"filter":"datum.key === 'study'"}],"mark":{"type":"text","align":"center","baseline":"middle","fontSize":13.2,"fontWeight":"bold","color":"#333","dx":40.5,"dy":-8.5},"encoding":{"y":{"datum":"h2","type":"nominal","scale":{"type":"band","domain":["title","blank","h1","h2","Chee 2017","Efebera 2009","Kataoka 2009","Kup\u0306esiz 2020","Mahindra 2009","Pan 2023","Tanaka 2015","Total (95% CI)","Total events","Heterogeneity"],"range":[13,265],"paddingInner":0,"paddingOuter":0},"axis":null},"text":{"field":"label","type":"nominal"}}}
]},
{"layer":[
{"data":{"name":"studiesC"},"transform":[{"fold":["he","ht"],"as":["key","val"]}],"mark":{"type":"text","align":"right","baseline":"middle","fontSize":13.2,"color":"#111"},"encoding":{"x":{"field":"key","type":"nominal","scale":{"type":"point","domain":["he","ht"],"range":[156,198],"padding":0},"axis":null},"y":{"field":"study","type":"nominal","scale":{"type":"band","domain":["title","blank","h1","h2","Chee 2017","Efebera 2009","Kataoka 2009","Kup\u0306esiz 2020","Mahindra 2009","Pan 2023","Tanaka 2015","Total (95% CI)","Total events","Heterogeneity"],"range":[13,265],"paddingInner":0,"paddingOuter":0},"axis":null},"text":{"field":"val","type":"nominal"}}},
{"data":{"name":"footC"},"mark":{"type":"text","align":"right","baseline":"middle","fontSize":13.2,"fontWeight":"bold","color":"#111"},"encoding":{"x":{"datum":"ht","type":"nominal","scale":{"type":"point","domain":["he","ht"],"range":[156,198],"padding":0},"axis":null},"y":{"datum":"Total (95% CI)","type":"nominal","scale":{"type":"band","domain":["title","blank","h1","h2","Chee 2017","Efebera 2009","Kataoka 2009","Kup\u0306esiz 2020","Mahindra 2009","Pan 2023","Tanaka 2015","Total (95% CI)","Total events","Heterogeneity"],"range":[13,265],"paddingInner":0,"paddingOuter":0},"axis":null},"text":{"field":"ht","type":"nominal"}}},
{"data":{"name":"footC"},"mark":{"type":"text","align":"right","baseline":"middle","fontSize":13.2,"color":"#111","dy":2},"encoding":{"x":{"datum":"he","type":"nominal","scale":{"type":"point","domain":["he","ht"],"range":[156,198],"padding":0},"axis":null},"y":{"datum":"Total events","type":"nominal","scale":{"type":"band","domain":["title","blank","h1","h2","Chee 2017","Efebera 2009","Kataoka 2009","Kup\u0306esiz 2020","Mahindra 2009","Pan 2023","Tanaka 2015","Total (95% CI)","Total events","Heterogeneity"],"range":[13,265],"paddingInner":0,"paddingOuter":0},"axis":null},"text":{"field":"he","type":"nominal"}}},
{"data":{"name":"headers"},"transform":[{"filter":"datum.key === 'he' || datum.key === 'ht'"}],"mark":{"type":"text","align":"right","baseline":"middle","fontSize":13.2,"fontWeight":"bold","color":"#333","dx":11.5,"dy":-4},"encoding":{"x":{"field":"key","type":"nominal","scale":{"type":"point","domain":["he","ht"],"range":[156,198],"padding":0},"axis":null},"y":{"datum":"h2","type":"nominal","scale":{"type":"band","domain":["title","blank","h1","h2","Chee 2017","Efebera 2009","Kataoka 2009","Kup\u0306esiz 2020","Mahindra 2009","Pan 2023","Tanaka 2015","Total (95% CI)","Total events","Heterogeneity"],"range":[13,265],"paddingInner":0,"paddingOuter":0},"axis":null},"text":{"field":"label","type":"nominal"}}},
{"data":{"name":"headers"},"transform":[{"filter":"datum.key === 'hi'"}],"mark":{"type":"text","align":"center","baseline":"middle","fontSize":13.2,"fontWeight":"bold","color":"#333","dx":6,"dy":-4.5},"encoding":{"x":{"datum":"he","type":"nominal","scale":{"type":"point","domain":["he","ht"],"range":[156,198],"padding":0},"axis":null},"y":{"datum":"h1","type":"nominal","scale":{"type":"band","domain":["title","blank","h1","h2","Chee 2017","Efebera 2009","Kataoka 2009","Kup\u0306esiz 2020","Mahindra 2009","Pan 2023","Tanaka 2015","Total (95% CI)","Total events","Heterogeneity"],"range":[13,265],"paddingInner":0,"paddingOuter":0},"axis":null},"text":{"field":"label","type":"nominal"}}}
]},
{"layer":[
{"data":{"name":"studiesC"},"transform":[{"fold":["le","lt"],"as":["key","val"]}],"mark":{"type":"text","align":"right","baseline":"middle","fontSize":13.2,"color":"#111"},"encoding":{"x":{"field":"key","type":"nominal","scale":{"type":"point","domain":["le","lt"],"range":[252,294],"padding":0},"axis":null},"y":{"field":"study","type":"nominal","scale":{"type":"band","domain":["title","blank","h1","h2","Chee 2017","Efebera 2009","Kataoka 2009","Kup\u0306esiz 2020","Mahindra 2009","Pan 2023","Tanaka 2015","Total (95% CI)","Total events","Heterogeneity"],"range":[13,265],"paddingInner":0,"paddingOuter":0},"axis":null},"text":{"field":"val","type":"nominal"}}},
{"data":{"name":"footC"},"mark":{"type":"text","align":"right","baseline":"middle","fontSize":13.2,"fontWeight":"bold","color":"#111"},"encoding":{"x":{"datum":"lt","type":"nominal","scale":{"type":"point","domain":["le","lt"],"range":[252,294],"padding":0},"axis":null},"y":{"datum":"Total (95% CI)","type":"nominal","scale":{"type":"band","domain":["title","blank","h1","h2","Chee 2017","Efebera 2009","Kataoka 2009","Kup\u0306esiz 2020","Mahindra 2009","Pan 2023","Tanaka 2015","Total (95% CI)","Total events","Heterogeneity"],"range":[13,265],"paddingInner":0,"paddingOuter":0},"axis":null},"text":{"field":"lt","type":"nominal"}}},
{"data":{"name":"footC"},"mark":{"type":"text","align":"right","baseline":"middle","fontSize":13.2,"color":"#111","dy":2},"encoding":{"x":{"datum":"le","type":"nominal","scale":{"type":"point","domain":["le","lt"],"range":[252,294],"padding":0},"axis":null},"y":{"datum":"Total events","type":"nominal","scale":{"type":"band","domain":["title","blank","h1","h2","Chee 2017","Efebera 2009","Kataoka 2009","Kup\u0306esiz 2020","Mahindra 2009","Pan 2023","Tanaka 2015","Total (95% CI)","Total events","Heterogeneity"],"range":[13,265],"paddingInner":0,"paddingOuter":0},"axis":null},"text":{"field":"le","type":"nominal"}}},
{"data":{"name":"headers"},"transform":[{"filter":"datum.key === 'le' || datum.key === 'lt'"}],"mark":{"type":"text","align":"right","baseline":"middle","fontSize":13.2,"fontWeight":"bold","color":"#333","dx":12,"dy":-4},"encoding":{"x":{"field":"key","type":"nominal","scale":{"type":"point","domain":["le","lt"],"range":[252,294],"padding":0},"axis":null},"y":{"datum":"h2","type":"nominal","scale":{"type":"band","domain":["title","blank","h1","h2","Chee 2017","Efebera 2009","Kataoka 2009","Kup\u0306esiz 2020","Mahindra 2009","Pan 2023","Tanaka 2015","Total (95% CI)","Total events","Heterogeneity"],"range":[13,265],"paddingInner":0,"paddingOuter":0},"axis":null},"text":{"field":"label","type":"nominal"}}},
{"data":{"name":"headers"},"transform":[{"filter":"datum.key === 'lo'"}],"mark":{"type":"text","align":"center","baseline":"middle","fontSize":13.2,"fontWeight":"bold","color":"#333","dx":5,"dy":-4.5},"encoding":{"x":{"datum":"le","type":"nominal","scale":{"type":"point","domain":["le","lt"],"range":[252,294],"padding":0},"axis":null},"y":{"datum":"h1","type":"nominal","scale":{"type":"band","domain":["title","blank","h1","h2","Chee 2017","Efebera 2009","Kataoka 2009","Kup\u0306esiz 2020","Mahindra 2009","Pan 2023","Tanaka 2015","Total (95% CI)","Total events","Heterogeneity"],"range":[13,265],"paddingInner":0,"paddingOuter":0},"axis":null},"text":{"field":"label","type":"nominal"}}}
]},
{"encoding":{"x":{"datum":"rr","type":"nominal","scale":{"type":"point","domain":["rr"],"range":[435,435]},"axis":null}},
"layer":[
{"data":{"name":"studiesC"},"mark":{"type":"text","align":"right","baseline":"middle","fontSize":13.2,"color":"#111"},"encoding":{"y":{"field":"study","type":"nominal","scale":{"type":"band","domain":["title","blank","h1","h2","Chee 2017","Efebera 2009","Kataoka 2009","Kup\u0306esiz 2020","Mahindra 2009","Pan 2023","Tanaka 2015","Total (95% CI)","Total events","Heterogeneity"],"range":[13,265],"paddingInner":0,"paddingOuter":0},"axis":null},"text":{"field":"rr","type":"nominal"}}},
{"data":{"name":"footC"},"mark":{"type":"text","align":"right","baseline":"middle","fontSize":13.2,"fontWeight":"bold","color":"#111"},"encoding":{"y":{"datum":"Total (95% CI)","type":"nominal","scale":{"type":"band","domain":["title","blank","h1","h2","Chee 2017","Efebera 2009","Kataoka 2009","Kup\u0306esiz 2020","Mahindra 2009","Pan 2023","Tanaka 2015","Total (95% CI)","Total events","Heterogeneity"],"range":[13,265],"paddingInner":0,"paddingOuter":0},"axis":null},"text":{"field":"rr","type":"nominal"}}},
{"data":{"name":"headers"},"transform":[{"filter":"datum.key === 'rr'"}],"mark":{"type":"text","align":"center","baseline":"middle","fontSize":13.2,"fontWeight":"bold","color":"#333","dx":-55,"dy":-8},"encoding":{"y":{"datum":"h2","type":"nominal","scale":{"type":"band","domain":["title","blank","h1","h2","Chee 2017","Efebera 2009","Kataoka 2009","Kup\u0306esiz 2020","Mahindra 2009","Pan 2023","Tanaka 2015","Total (95% CI)","Total events","Heterogeneity"],"range":[13,265],"paddingInner":0,"paddingOuter":0},"axis":null},"text":{"field":"label","type":"nominal"}}}
]},
{"encoding":{"x":{"datum":"wt","type":"nominal","scale":{"type":"point","domain":["wt"],"range":[784,784]},"axis":null}},
"layer":[
{"data":{"name":"studiesC"},"mark":{"type":"text","align":"right","baseline":"middle","fontSize":13.2,"color":"#111"},"encoding":{"y":{"field":"study","type":"nominal","scale":{"type":"band","domain":["title","blank","h1","h2","Chee 2017","Efebera 2009","Kataoka 2009","Kup\u0306esiz 2020","Mahindra 2009","Pan 2023","Tanaka 2015","Total (95% CI)","Total events","Heterogeneity"],"range":[13,265],"paddingInner":0,"paddingOuter":0},"axis":null},"text":{"field":"w","type":"quantitative","format":".1%"}}},
{"data":{"name":"footC"},"mark":{"type":"text","align":"right","baseline":"middle","fontSize":13.2,"fontWeight":"bold","color":"#111"},"encoding":{"y":{"datum":"Total (95% CI)","type":"nominal","scale":{"type":"band","domain":["title","blank","h1","h2","Chee 2017","Efebera 2009","Kataoka 2009","Kup\u0306esiz 2020","Mahindra 2009","Pan 2023","Tanaka 2015","Total (95% CI)","Total events","Heterogeneity"],"range":[13,265],"paddingInner":0,"paddingOuter":0},"axis":null},"text":{"field":"w","type":"quantitative","format":".1%"}}},
{"data":{"name":"headers"},"transform":[{"filter":"datum.key === 'wt'"}],"mark":{"type":"text","align":"center","baseline":"middle","fontSize":13.2,"fontWeight":"bold","color":"#333","dx":-18.5,"dy":-8},"encoding":{"y":{"datum":"h2","type":"nominal","scale":{"type":"band","domain":["title","blank","h1","h2","Chee 2017","Efebera 2009","Kataoka 2009","Kup\u0306esiz 2020","Mahindra 2009","Pan 2023","Tanaka 2015","Total (95% CI)","Total events","Heterogeneity"],"range":[13,265],"paddingInner":0,"paddingOuter":0},"axis":null},"text":{"field":"label","type":"nominal"}}}
]},
{"data":{"name":"footC"},"mark":{"type":"rule","color":"#111","strokeWidth":1},"encoding":{"x":{"datum":"a","type":"nominal","scale":{"type":"point","domain":["a","b"],"range":[10,447],"padding":0},"axis":null},"x2":{"datum":"b"},"y":{"datum":"h2","type":"nominal","bandPosition":0.75,"scale":{"type":"band","domain":["title","blank","h1","h2","Chee 2017","Efebera 2009","Kataoka 2009","Kup\u0306esiz 2020","Mahindra 2009","Pan 2023","Tanaka 2015","Total (95% CI)","Total events","Heterogeneity"],"range":[13,265],"paddingInner":0,"paddingOuter":0},"axis":null}}},
{"data":{"name":"footC"},"mark":{"type":"rule","color":"#888","strokeDash":[2,2],"strokeWidth":1},"encoding":{"x":{"datum":1,"type":"quantitative","scale":{"type":"log","domain":[0.01,100],"range":[415,729]},"axis":null},"y":{"datum":"h2","type":"nominal","bandPosition":0.72,"scale":{"type":"band","domain":["title","blank","h1","h2","Chee 2017","Efebera 2009","Kataoka 2009","Kup\u0306esiz 2020","Mahindra 2009","Pan 2023","Tanaka 2015","Total (95% CI)","Total events","Heterogeneity"],"range":[13,265],"paddingInner":0,"paddingOuter":0},"axis":null},"y2":{"datum":"Heterogeneity"}}},
{"data":{"name":"studiesC"},"mark":{"type":"rule","color":"#808080","strokeWidth":1.2},"encoding":{"x":{"field":"lo","type":"quantitative","scale":{"type":"log","domain":[0.01,100],"range":[415,729]},"axis":{"orient":"bottom","values":[0.01,0.1,1,10,100],"format":"~g","grid":false,"domainColor":"#666","tickColor":"#666","tickSize":5,"labelFont":"Liberation Sans","labelFontSize":13,"labelColor":"#222","labelPadding":1,"labelFlush":true,"title":null}},"x2":{"field":"hi"},"y":{"field":"study","type":"nominal","scale":{"type":"band","domain":["title","blank","h1","h2","Chee 2017","Efebera 2009","Kataoka 2009","Kup\u0306esiz 2020","Mahindra 2009","Pan 2023","Tanaka 2015","Total (95% CI)","Total events","Heterogeneity"],"range":[13,265],"paddingInner":0,"paddingOuter":0},"axis":null}}},
{"data":{"name":"studiesC"},"mark":{"type":"point","shape":"square","filled":true,"color":"#1e6b34","opacity":1},"encoding":{"x":{"field":"est","type":"quantitative","scale":{"type":"log","domain":[0.01,100],"range":[415,729]},"axis":null},"y":{"field":"study","type":"nominal","scale":{"type":"band","domain":["title","blank","h1","h2","Chee 2017","Efebera 2009","Kataoka 2009","Kup\u0306esiz 2020","Mahindra 2009","Pan 2023","Tanaka 2015","Total (95% CI)","Total events","Heterogeneity"],"range":[13,265],"paddingInner":0,"paddingOuter":0},"axis":null},"size":{"field":"w","type":"quantitative","scale":{"type":"linear","domain":[0,1],"range":[0,263]},"legend":null}}},
{"data":{"name":"footC"},"mark":{"type":"point","shape":"M-1.84,0L0,-1L1.84,0L0,1Z","filled":true,"fill":"#40a8d8","stroke":"#1f4f6a","strokeWidth":0.8,"size":225,"opacity":1},"encoding":{"x":{"field":"est","type":"quantitative","scale":{"type":"log","domain":[0.01,100],"range":[415,729]},"axis":null},"y":{"datum":"Total (95% CI)","type":"nominal","scale":{"type":"band","domain":["title","blank","h1","h2","Chee 2017","Efebera 2009","Kataoka 2009","Kup\u0306esiz 2020","Mahindra 2009","Pan 2023","Tanaka 2015","Total (95% CI)","Total events","Heterogeneity"],"range":[13,265],"paddingInner":0,"paddingOuter":0},"axis":null}}},
{"data":{"name":"footC"},"mark":{"type":"text","text":["Favours","[lower SF]"],"align":"right","baseline":"middle","fontSize":11,"lineHeight":11,"color":"#444","dx":-6,"dy":6},"encoding":{"x":{"datum":1,"type":"quantitative","scale":{"type":"log","domain":[0.01,100],"range":[415,729]},"axis":null},"y":{"datum":"h1","type":"nominal","scale":{"type":"band","domain":["title","blank","h1","h2","Chee 2017","Efebera 2009","Kataoka 2009","Kup\u0306esiz 2020","Mahindra 2009","Pan 2023","Tanaka 2015","Total (95% CI)","Total events","Heterogeneity"],"range":[13,265],"paddingInner":0,"paddingOuter":0},"axis":null}}},
{"data":{"name":"footC"},"mark":{"type":"text","text":["Favours","[higher SF]"],"align":"left","baseline":"middle","fontSize":11,"lineHeight":11,"color":"#444","dx":4,"dy":6},"encoding":{"x":{"datum":1,"type":"quantitative","scale":{"type":"log","domain":[0.01,100],"range":[415,729]},"axis":null},"y":{"datum":"h1","type":"nominal","scale":{"type":"band","domain":["title","blank","h1","h2","Chee 2017","Efebera 2009","Kataoka 2009","Kup\u0306esiz 2020","Mahindra 2009","Pan 2023","Tanaka 2015","Total (95% CI)","Total events","Heterogeneity"],"range":[13,265],"paddingInner":0,"paddingOuter":0},"axis":null}}}
]
}
]
}
